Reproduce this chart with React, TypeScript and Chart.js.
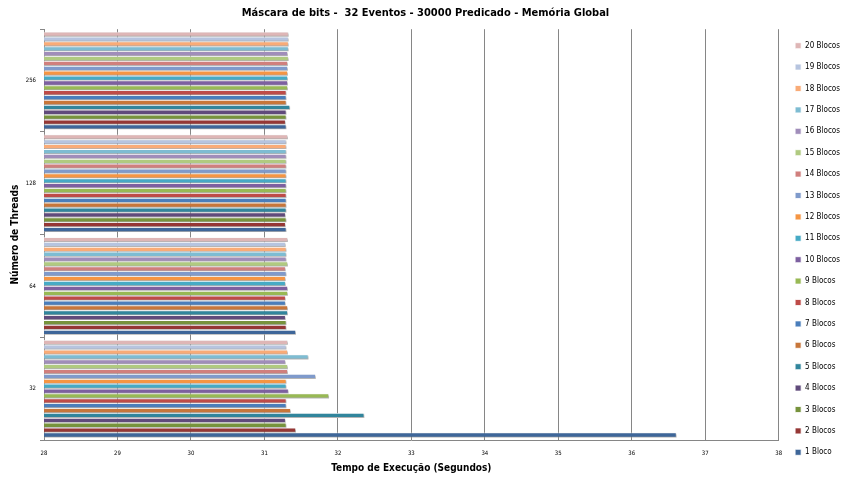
import React, { useEffect, useRef } from "react";
import { Chart, registerables } from "chart.js";

Chart.register(...registerables);

const threadLabels = ["32", "64", "128", "256"];
const seriesNames = [
  "1 Bloco", "2 Blocos", "3 Blocos", "4 Blocos", "5 Blocos", "6 Blocos", "7 Blocos",
  "8 Blocos", "9 Blocos", "10 Blocos", "11 Blocos", "12 Blocos", "13 Blocos", "14 Blocos",
  "15 Blocos", "16 Blocos", "17 Blocos", "18 Blocos", "19 Blocos", "20 Blocos",
];
// values per thread count, index 0 = 1 Bloco ... index 19 = 20 Blocos
const t32 = [36.61, 31.43, 31.30, 31.29, 32.36, 31.36, 31.30, 31.30, 31.88, 31.33, 31.30, 31.30, 31.70, 31.32, 31.32, 31.29, 31.60, 31.32, 31.30, 31.32];
const t64 = [31.43, 31.30, 31.30, 31.29, 31.32, 31.32, 31.29, 31.29, 31.32, 31.32, 31.29, 31.29, 31.30, 31.29, 31.32, 31.30, 31.30, 31.30, 31.29, 31.32];
const t128 = [31.30, 31.29, 31.30, 31.29, 31.30, 31.30, 31.30, 31.30, 31.30, 31.30, 31.30, 31.30, 31.30, 31.30, 31.30, 31.30, 31.30, 31.30, 31.30, 31.32];
const t256 = [31.30, 31.29, 31.30, 31.30, 31.35, 31.30, 31.30, 31.30, 31.32, 31.32, 31.32, 31.32, 31.32, 31.32, 31.33, 31.32, 31.33, 31.33, 31.33, 31.33];
const seriesColors = [
  "#3E6699", "#953735", "#77933C", "#604A7B", "#31859C", "#C7763A", "#4A7EBB",
  "#BE4B48", "#98B954", "#7D60A0", "#46AAC5", "#F59543", "#7F9ACB", "#D07F7D",
  "#B0CA80", "#A08DBA", "#7EBCD2", "#F9AB77", "#B6C4DF", "#DEB6B6",
];
const xTicks = [28, 29, 30, 31, 32, 33, 34, 35, 36, 37, 38];

const FONT = "'Liberation Sans Narrow', 'DejaVu Sans Condensed', 'Liberation Sans', sans-serif";

const shadowPlugin = {
  id: "barShadow",
  beforeDatasetsDraw(chart: any) {
    const ctx = chart.ctx;
    ctx.save();
    ctx.shadowColor = "rgba(0,0,0,0.35)";
    ctx.shadowOffsetX = 1.5;
    ctx.shadowOffsetY = 1.5;
    ctx.shadowBlur = 2;
  },
  afterDatasetsDraw(chart: any) {
    chart.ctx.restore();
  },
};

const legendShift = {
  id: "legendShift",
  afterLayout(chart: any) {
    const lg = chart.legend;
    if (!lg) return;
    lg.left += 3;
    lg.right += 3;
    lg.top += 8;
    lg.bottom += 8;
    if (lg.legendHitBoxes) {
      lg.legendHitBoxes.forEach((b: any) => {
        b.left += 3;
        b.top += 8;
      });
    }
  },
};

export default function App() {
  const ref = useRef<HTMLCanvasElement | null>(null);
  useEffect(() => {
    if (!ref.current) return;
    const groups = [t32, t64, t128, t256];
    const order = seriesNames.map((_, i) => i).reverse();
    const datasets = order.map((i) => ({
      label: seriesNames[i],
      data: groups.map((g) => g[i]),
      backgroundColor: seriesColors[i],
      borderColor: "#FFFFFF",
      borderWidth: 0.8,
      barPercentage: 1,
      categoryPercentage: 0.95,
    }));
    const chart = new Chart(ref.current, {
      type: "bar",
      data: { labels: threadLabels, datasets },
      plugins: [shadowPlugin, legendShift],
      options: {
        indexAxis: "y",
        animation: false,
        responsive: false,
        maintainAspectRatio: false,
        layout: { padding: { left: 4, right: 1, top: 0, bottom: 0 } },
        plugins: {
          title: {
            display: true,
            text: "Máscara de bits -  32 Eventos - 30000 Predicado - Memória Global",
            color: "#000",
            font: { family: FONT, size: 11, weight: "bold" },
            padding: { top: 7, bottom: 9 },
          },
          legend: {
            position: "right",
            labels: {
              boxWidth: 6,
              boxHeight: 6,
              padding: 13.4,
              color: "#000",
              font: { family: FONT, size: 8 },
            },
          },
          tooltip: { enabled: false },
        },
        scales: {
          x: {
            type: "linear",
            min: 28,
            max: 38,
            afterBuildTicks(scale: any) {
              scale.ticks = xTicks.map((v) => ({ value: v }));
            },
            afterFit(scale: any) {
              scale.height = 42;
            },
            grid: { color: "#868686", lineWidth: 1, drawTicks: false },
            border: { display: true, color: "#868686" },
            ticks: { color: "#000", font: { family: FONT, size: 6 }, padding: 10 },
            title: {
              display: true,
              text: "Tempo de Execução (Segundos)",
              color: "#000",
              font: { family: FONT, size: 10, weight: "bold" },
              padding: { top: 0, bottom: 8 },
            },
          },
          y: {
            reverse: true,
            afterFit(scale: any) {
              scale.width = 40;
            },
            grid: { drawOnChartArea: false, color: "#868686", tickLength: 4 },
            border: { display: true, color: "#868686" },
            ticks: { color: "#000", font: { family: FONT, size: 6 }, padding: 4 },
            title: {
              display: true,
              text: "Número de Threads",
              color: "#000",
              font: { family: FONT, size: 10, weight: "bold" },
              padding: { top: 5, bottom: 8 },
            },
          },
        },
      },
    });
    return () => chart.destroy();
  }, []);
  return (
    <div style={{ position: "absolute", left: 0, top: 0, width: 848, height: 482, background: "#fff" }}>
      <canvas ref={ref} width={848} height={482} style={{ width: 848, height: 482 }} />
    </div>
  );
}
